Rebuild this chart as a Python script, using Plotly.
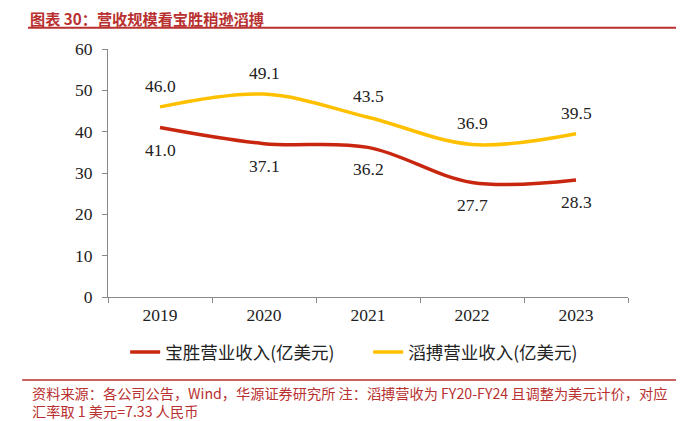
import plotly.graph_objects as go

# 年份与营收数据（亿美元）
years = ["2019", "2020", "2021", "2022", "2023"]
baosheng = [41.0, 37.1, 36.2, 27.7, 28.3]
taobo = [46.0, 49.1, 43.5, 36.9, 39.5]

name_bs = "宝胜营业收入(亿美元)"
name_tb = "滔搏营业收入(亿美元)"
title_text = "图表 30：营收规模看宝胜稍逊滔搏"
source_l1 = "资料来源：各公司公告，Wind，华源证券研究所 注：滔搏营收为 FY20-FY24 且调整为美元计价，对应"
source_l2 = "汇率取 1 美元=7.33 人民币"

RED = "#C8260F"
YEL = "#FFC000"
TXT_RED = "#B8302F"
CJK = "Noto Sans CJK SC"
SERIF = "Liberation Serif"

fig = go.Figure()
fig.add_trace(go.Scatter(x=years, y=baosheng, mode="lines", name=name_bs,
                         line=dict(color=RED, width=3.5, shape="spline", smoothing=1)))
fig.add_trace(go.Scatter(x=years, y=taobo, mode="lines", name=name_tb,
                         line=dict(color=YEL, width=3.5, shape="spline", smoothing=1)))

# 数据标签：滔搏在上，宝胜在下（类别轴上用序号定位）
annos = []
for i, v in enumerate(taobo):
    annos.append(dict(x=i, y=v, text=f"{v:.1f}", showarrow=False, yshift=21,
                      font=dict(family=SERIF, size=17.5, color="#222")))
for i, v in enumerate(baosheng):
    annos.append(dict(x=i, y=v, text=f"{v:.1f}", showarrow=False, yshift=-22,
                      font=dict(family=SERIF, size=17.5, color="#222")))

# 资料来源（两行放一个注释里）
annos.append(dict(xref="paper", yref="paper", x=-0.15, y=-0.423, xanchor="left", yanchor="middle",
                  align="left", text=source_l1 + "<br>" + source_l2, showarrow=False,
                  font=dict(family=CJK, size=14.2, color=TXT_RED)))

# 页面 body 自带 8px 边距，这里整体上移/左移 8px 补偿
fig.update_layout(
    width=684, height=421,
    margin=dict(l=100, r=64, t=41, b=132),
    paper_bgcolor="white", plot_bgcolor="white",
    title=dict(text=title_text, xref="container", yref="container", x=22 / 684, y=1 - 12 / 421,
               xanchor="left", yanchor="middle",
               font=dict(family=CJK, size=15.2, color=TXT_RED, weight="bold")),
    annotations=annos,
    showlegend=True,
    legend=dict(orientation="h", x=0.033, y=-0.222, xanchor="left", yanchor="middle",
                font=dict(family=CJK, size=17.5, color="#222"), entrywidth=198,
                bgcolor="rgba(0,0,0,0)"),
    shapes=[
        dict(type="line", xref="paper", yref="paper", x0=-0.154, x1=1.1, y0=1.086, y1=1.086,
             line=dict(color=TXT_RED, width=2)),
        dict(type="line", xref="paper", yref="paper", x0=-0.165, x1=1.108, y0=-0.335, y1=-0.335,
             line=dict(color=TXT_RED, width=1.5)),
    ],
)

fig.update_xaxes(type="category", range=[-0.5, 4.5], showline=True, linecolor="#888", linewidth=1.2,
                 ticks="outside", tickson="boundaries", ticklen=5, tickcolor="#888",
                 showgrid=False, zeroline=False, ticklabelstandoff=2,
                 tickfont=dict(family=SERIF, size=17.5, color="#222"))
fig.update_yaxes(range=[0, 60], dtick=10, showline=True, linecolor="#888", linewidth=1.2,
                 ticks="outside", ticklen=5, tickcolor="#888", showgrid=False, zeroline=False,
                 ticklabelstandoff=6,
                 tickfont=dict(family=SERIF, size=17.5, color="#222"))

fig.write_html("out.html")
